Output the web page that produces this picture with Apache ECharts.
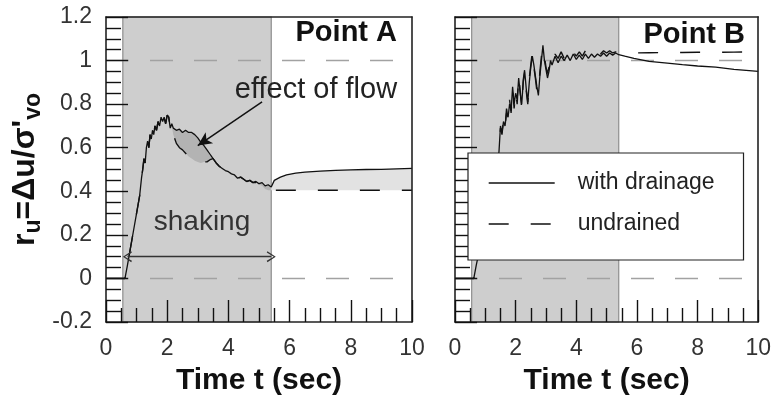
<!DOCTYPE html>
<html>
<head>
<meta charset="utf-8">
<script src="https://cdn.jsdelivr.net/npm/echarts@6/dist/echarts.min.js"></script>
<style>
  html, body { margin: 0; padding: 0; background: #fff; }
  #chart { width: 774px; height: 401px; }
</style>
</head>
<body>
<div id="chart"></div>
<script>
// Excess pore pressure ratio r_u versus time at two points, with and without drainage.

// ---- Point A ----
const timeA = [0, 0.62, 0.7, 0.8, 0.9, 1.0, 1.1, 1.16, 1.2, 1.24, 1.28, 1.32, 1.36, 1.4, 1.44, 1.48,
  1.52, 1.56, 1.6, 1.65, 1.7, 1.75, 1.8, 1.85, 1.9, 1.95, 2.0, 2.05, 2.1, 2.15, 2.2, 2.3, 2.4,
  2.5, 2.6, 2.7, 2.8, 2.9, 3.0, 3.1, 3.2, 3.3, 3.4, 3.5, 3.6, 3.7, 3.8, 3.9, 4.0, 4.1, 4.2, 4.3,
  4.4, 4.5, 4.6, 4.7, 4.8, 4.9, 5.0, 5.1, 5.2, 5.3, 5.4, 5.5, 5.7, 5.9, 6.2, 6.5, 7.0, 7.5, 8.0,
  8.5, 9.0, 9.5, 10.0];
const drainedA = [0, 0, 0.06, 0.14, 0.22, 0.3, 0.38, 0.46, 0.5, 0.55, 0.53, 0.6, 0.63, 0.6, 0.66, 0.64,
  0.68, 0.66, 0.7, 0.68, 0.72, 0.7, 0.74, 0.72, 0.74, 0.71, 0.75, 0.74, 0.69, 0.71, 0.69, 0.68, 0.685,
  0.67, 0.68, 0.67, 0.67, 0.66, 0.645, 0.625, 0.61, 0.59, 0.57, 0.55, 0.53, 0.515, 0.505, 0.495, 0.49, 0.48, 0.475, 0.46,
  0.465, 0.455, 0.445, 0.45, 0.44, 0.445, 0.435, 0.44, 0.425, 0.43, 0.42, 0.45, 0.465, 0.475, 0.483, 0.488, 0.493, 0.496, 0.498,
  0.5, 0.501, 0.503, 0.505];
const undrainedA = [0, 0, 0.06, 0.14, 0.22, 0.3, 0.38, 0.46, 0.5, 0.55, 0.53, 0.6, 0.63, 0.6, 0.66, 0.64,
  0.68, 0.66, 0.7, 0.68, 0.72, 0.7, 0.74, 0.72, 0.74, 0.71, 0.75, 0.74, 0.69, 0.7, 0.66, 0.62, 0.6,
  0.59, 0.575, 0.56, 0.55, 0.54, 0.535, 0.53, 0.535, 0.535, 0.545, 0.55, 0.53, 0.515, 0.505, 0.495, 0.49, 0.48, 0.475, 0.46,
  0.465, 0.455, 0.445, 0.45, 0.44, 0.44, 0.43, 0.425, 0.41, 0.405, 0.405, 0.405, 0.405, 0.405, 0.405, 0.405, 0.405, 0.405, 0.405,
  0.405, 0.405, 0.405, 0.405];

// ---- Point B ----
const timeB = [0, 0.62, 0.7, 0.76, 0.9, 1.1, 1.3, 1.45, 1.5, 1.55, 1.6, 1.65, 1.7, 1.75, 1.8, 1.85,
  1.9, 1.95, 2.0, 2.05, 2.1, 2.15, 2.2, 2.25, 2.3, 2.35, 2.4, 2.45, 2.5, 2.55, 2.6, 2.65, 2.7, 2.75,
  2.8, 2.85, 2.9, 2.95, 3.0, 3.05, 3.1, 3.15, 3.2, 3.3, 3.4, 3.5, 3.6, 3.7, 3.8, 3.9, 4.0, 4.1, 4.2,
  4.3, 4.4, 4.5, 4.6, 4.7, 4.8, 4.9, 5.0, 5.1, 5.2, 5.3, 5.4, 5.6, 5.9, 6.4, 7.0, 7.5, 8.0, 8.6, 9.2, 10.0];
const drainedB = [0, 0, 0.06, 0.1, 0.2, 0.35, 0.48, 0.58, 0.7, 0.67, 0.72, 0.7, 0.76, 0.74, 0.8, 0.77,
  0.88, 0.8, 0.85, 0.82, 0.92, 0.85, 0.8, 0.9, 0.95, 0.87, 0.81, 0.9, 0.97, 1.02, 0.98, 0.93, 0.88, 0.84,
  0.93, 1.0, 1.07, 1.0, 0.96, 0.92, 0.95, 1.0, 0.98, 1.02, 0.99, 1.02, 1.0, 1.025, 1.0, 1.03, 1.005, 1.025, 1.005,
  1.03, 1.01, 1.03, 1.015, 1.03, 1.02, 1.035, 1.02, 1.035, 1.025, 1.035, 1.027, 1.02, 1.01, 0.996, 0.988, 0.981, 0.975, 0.97, 0.96, 0.95];
const undrainedB = [0, 0, 0.06, 0.1, 0.2, 0.35, 0.48, 0.6, 0.69, 0.66, 0.73, 0.69, 0.78, 0.73, 0.82, 0.76,
  0.87, 0.78, 0.86, 0.8, 0.93, 0.86, 0.78, 0.91, 0.96, 0.86, 0.8, 0.92, 0.98, 1.04, 0.97, 0.92, 0.86, 0.85,
  0.95, 1.02, 1.06, 1.02, 0.97, 0.94, 0.97, 1.02, 1.0, 1.03, 1.01, 1.04, 1.01, 1.04, 1.015, 1.04, 1.02, 1.04, 1.02,
  1.045, 1.025, 1.04, 1.03, 1.045, 1.03, 1.045, 1.035, 1.045, 1.035, 1.04, 1.035, 1.035, 1.035, 1.036, 1.037, 1.037, 1.038, 1.038, 1.039, 1.04];

// Shaking window (s), reference levels of r_u, time span of the axes
const shaking = [0.55, 5.4];
const refLevels = [1, 0];
const timeSpan = [0, 10];
const yRange = [-0.2, 1.2];
// Annotation arrows, in data coordinates [t, r_u]
const flowArrow = [[5.1, 0.81], [3.0, 0.61]];
const shakingArrow = [[0.7, 0.1], [5.4, 0.1]];

const FONT = "'Liberation Sans', Arial, Helvetica, sans-serif";
const INK = '#111';
const GRIDS = [
  { left: 106, top: 17, width: 306, height: 307 },
  { left: 455, top: 17, width: 305, height: 307 }
];

const pairs = (t, v) => t.map((x, i) => [x, v[i]]);

function bottomAxis(g) {
  return {
    type: 'value', gridIndex: g, min: timeSpan[0], max: timeSpan[1], interval: 2, position: 'bottom', z: 4,
    axisLine: { show: true, onZero: false, lineStyle: { color: '#222', width: 1.6 } },
    axisTick: { show: true, inside: true, length: 22, lineStyle: { color: INK, width: 1.4 } },
    minorTick: { show: true, splitNumber: 4, length: 14, lineStyle: { color: INK, width: 1.4 } },
    splitLine: { show: false },
    axisLabel: { fontSize: 23, color: '#333', margin: 15, fontFamily: FONT },
    name: 'Time t (sec)', nameLocation: 'middle', nameGap: 44,
    nameTextStyle: { fontSize: 30, fontWeight: 'bold', color: INK, fontFamily: FONT }
  };
}
function frameX(g) {
  return {
    type: 'value', gridIndex: g, min: timeSpan[0], max: timeSpan[1], position: 'top', z: 4,
    axisLine: { show: true, onZero: false, lineStyle: { color: '#222', width: 1.6 } },
    axisTick: { show: false }, axisLabel: { show: false }, splitLine: { show: false }
  };
}
function leftAxis(g, labelled) {
  const ax = {
    type: 'value', gridIndex: g, min: yRange[0], max: yRange[1], interval: 0.2, position: 'left', z: 4,
    axisLine: { show: true, onZero: false, lineStyle: { color: '#222', width: 1.6 } },
    axisTick: { show: true, inside: true, length: 22, lineStyle: { color: INK, width: 1.4 } },
    minorTick: { show: true, splitNumber: 4, length: 15, lineStyle: { color: INK, width: 1.4 } },
    splitLine: { show: false },
    axisLabel: { show: labelled, fontSize: 23, color: '#333', margin: 14, fontFamily: FONT }
  };
  if (labelled) {
    ax.name = "{m|r}{s|u}{m|=Δu/σ'}{s|vo}";
    ax.nameLocation = 'middle';
    ax.nameGap = 65;
    ax.nameTextStyle = {
      rich: {
        m: { fontSize: 32, fontWeight: 'bold', color: INK, fontFamily: FONT, lineHeight: 32, verticalAlign: 'top' },
        s: { fontSize: 23, fontWeight: 'bold', color: INK, fontFamily: FONT, lineHeight: 23, padding: [13, 0, 0, 0], verticalAlign: 'top' }
      }
    };
  }
  return ax;
}
function frameY(g) {
  return {
    type: 'value', gridIndex: g, min: yRange[0], max: yRange[1], position: 'right', z: 4,
    axisLine: { show: true, onZero: false, lineStyle: { color: '#222', width: 1.6 } },
    axisTick: { show: false }, axisLabel: { show: false }, splitLine: { show: false }
  };
}

// Filled band between two curves over an index range
function band(g, t, upper, lower, from, to, color) {
  return {
    type: 'custom', xAxisIndex: g, yAxisIndex: g, z: 2, silent: true,
    data: [[t[from], upper[from]]],
    renderItem: function (params, api) {
      const pts = [];
      for (let i = from; i <= to; i++) pts.push(api.coord([t[i], upper[i]]));
      for (let i = to; i >= from; i--) pts.push(api.coord([t[i], lower[i]]));
      return { type: 'polygon', shape: { points: pts }, style: { fill: color } };
    }
  };
}

const chevron = 'path://M0,0 L6,10 L4.6,10.8 L0,2.4 L-4.6,10.8 L-6,10 Z';

function panelSeries(g, t, drained, undrained) {
  const list = [];
  // shaking window shading
  const shade = {
    type: 'line', xAxisIndex: g, yAxisIndex: g, data: [], silent: true, z: 1,
    markArea: {
      silent: true,
      itemStyle: { color: '#cecece', borderColor: '#8e8e8e', borderWidth: 1.2 },
      data: [[{ xAxis: shaking[0], yAxis: yRange[0] }, { xAxis: shaking[1], yAxis: yRange[1] }]]
    }
  };
  if (g === 0) {
    shade.markLine = {
      silent: true, symbol: ['none', 'arrow'], symbolSize: [10, 14],
      label: { show: false },
      lineStyle: { color: INK, width: 1.5, type: 'solid' },
      data: [
        [{ coord: flowArrow[0] }, { coord: flowArrow[1] }],
        [{ coord: shakingArrow[0], symbol: chevron, symbolSize: [11, 9], lineStyle: { color: '#333', width: 1.3 } },
         { coord: shakingArrow[1], symbol: chevron, symbolSize: [11, 9], lineStyle: { color: '#333', width: 1.3 } }]
      ]
    };
  }
  list.push(shade);
  // gray reference levels
  refLevels.forEach(function (lvl) {
    list.push({
      type: 'line', xAxisIndex: g, yAxisIndex: g, silent: true, z: 2, symbol: 'none',
      data: timeSpan.map(x => [x, lvl]),
      lineStyle: { color: '#a2a2a2', width: 1.6, type: [23, 21] }
    });
  });
  list.push({
    type: 'line', name: 'with drainage', xAxisIndex: g, yAxisIndex: g, z: 3, symbol: 'none',
    data: pairs(t, drained), lineStyle: { color: INK, width: 1.3 }, itemStyle: { color: INK }
  });
  list.push({
    type: 'line', name: 'undrained', xAxisIndex: g, yAxisIndex: g, z: 3, symbol: 'none',
    data: pairs(t, undrained), lineStyle: { color: INK, width: 1.4, type: [20, 22] }, itemStyle: { color: INK }
  });
  return list;
}

const endShakeA = timeA.indexOf(shaking[1]);
const series = [].concat(
  [band(0, timeA, drainedA, undrainedA, 0, endShakeA, '#b3b3b3'),
   band(0, timeA, drainedA, undrainedA, endShakeA, timeA.length - 1, '#e2e2e2')],
  panelSeries(0, timeA, drainedA, undrainedA),
  panelSeries(1, timeB, drainedB, undrainedB)
);

const chart = echarts.init(document.getElementById('chart'), null, { renderer: 'canvas' });
chart.setOption({
  animation: false,
  backgroundColor: '#fff',
  textStyle: { fontFamily: FONT },
  grid: GRIDS,
  xAxis: [bottomAxis(0), bottomAxis(1), frameX(0), frameX(1)],
  yAxis: [leftAxis(0, true), leftAxis(1, false), frameY(0), frameY(1)],
  legend: {
    data: ['with drainage', 'undrained'],
    orient: 'vertical', left: 468, top: 153,
    padding: [18, 29, 24, 20],
    itemWidth: 66, itemHeight: 12, itemGap: 17,
    backgroundColor: '#fff', borderColor: '#222', borderWidth: 1.2, borderRadius: 0,
    itemStyle: { opacity: 0 },
    lineStyle: { width: 1.4 },
    textStyle: { fontSize: 23, color: '#222', fontFamily: FONT, lineHeight: 24, padding: [0, 0, 0, 18] },
    selectedMode: false, z: 10
  },
  graphic: [
    { type: 'text', x: 397, y: 33, z: 10, silent: true,
      style: { text: 'Point A', fill: INK, font: "bold 29px " + FONT, align: 'right', verticalAlign: 'middle' } },
    { type: 'text', x: 745, y: 35, z: 10, silent: true,
      style: { text: 'Point B', fill: INK, font: "bold 29px " + FONT, align: 'right', verticalAlign: 'middle' } },
    { type: 'text', x: 316, y: 90, z: 10, silent: true,
      style: { text: 'effect of flow', fill: '#222', font: "29px " + FONT, align: 'center', verticalAlign: 'middle' } },
    { type: 'text', x: 202, y: 222, z: 10, silent: true,
      style: { text: 'shaking', fill: '#333', font: "28px " + FONT, align: 'center', verticalAlign: 'middle' } }
  ],
  series: series
});
</script>
</body>
</html>
